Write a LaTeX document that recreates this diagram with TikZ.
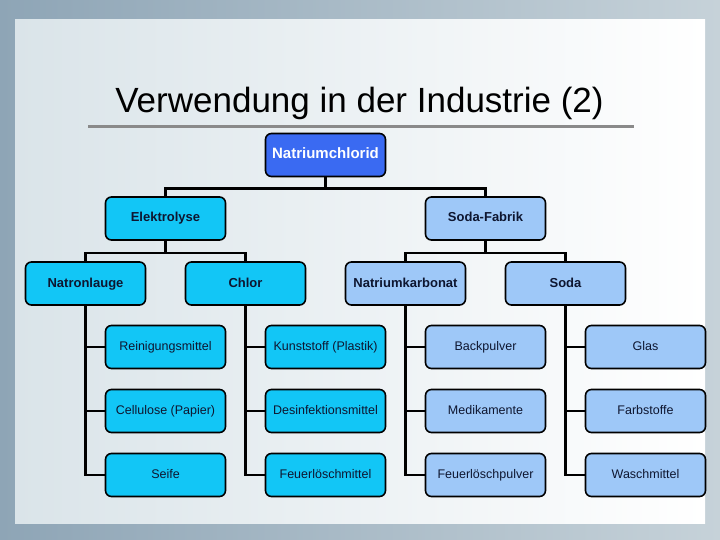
\documentclass[tikz,border=0pt]{standalone}
\usepackage{fontspec}
\setmainfont{Liberation Sans}
\usepackage{xcolor}
\usepackage{tikz}
\usetikzlibrary{shapes, arrows, positioning, calc}

\definecolor{naclblue}{HTML}{3A6AF2}
\definecolor{cyanfill}{HTML}{12C6F6}
\definecolor{lightfill}{HTML}{9EC8F8}
\definecolor{boxtext}{HTML}{0E1630}
\definecolor{outerleft}{HTML}{8EA5B6}
\definecolor{outerright}{HTML}{C6D2D9}
\definecolor{panelleft}{HTML}{DAE4E9}
\definecolor{rulegray}{HTML}{8A8A8A}

\begin{document}
\begin{tikzpicture}[x=1pt, y=-1pt, node distance=160pt,
  box/.style={rectangle, draw=black, line width=1.6pt, rounded corners=6pt, minimum width=120pt, minimum height=43pt, inner sep=2pt, text height=9.5pt, text depth=2.5pt, align=center, text=boxtext},
  head/.style={box, font=\fontsize{13}{15}\selectfont\bfseries},
  leaf/.style={box, font=\fontsize{12.5}{14}\selectfont},
  conn/.style={line width=2.6pt, black}]

\useasboundingbox (0,0) rectangle (720,540);
% slide background
\fill[left color=outerleft, right color=outerright] (0,0) rectangle (720,540);
\fill[left color=panelleft, right color=white] (15,20) rectangle (705,523);

\node[anchor=base, font=\fontsize{35}{42}\selectfont] (title) at (359.5,113) {Verwendung in der Industrie (2)};
\draw[rulegray, line width=3pt] (88,127) -- (634,127);

\node[head, fill=naclblue, text=white, font=\fontsize{15}{17}\selectfont\bfseries] (nacl) at (325.5,155) {Natriumchlorid};

\node[head, fill=cyanfill, below of=nacl, node distance=63.5pt, xshift=-160pt] (elektrolyse) {Elektrolyse};
\node[head, fill=lightfill, right of=elektrolyse, node distance=320pt] (sodafabrik) {Soda-Fabrik};

\node[head, fill=cyanfill, below of=elektrolyse, node distance=65pt, xshift=-80pt] (natronlauge) {Natronlauge};
\node[head, fill=cyanfill, right of=natronlauge] (chlor) {Chlor};
\node[head, fill=lightfill, right of=chlor] (karbonat) {Natriumkarbonat};
\node[head, fill=lightfill, right of=karbonat] (soda) {Soda};

\node[leaf, fill=cyanfill, below of=natronlauge, node distance=63.5pt, xshift=80pt] (reinigung) {Reinigungsmittel};
\node[leaf, fill=cyanfill, below of=reinigung, node distance=64pt] (cellulose) {Cellulose (Papier)};
\node[leaf, fill=cyanfill, below of=cellulose, node distance=64pt] (seife) {Seife};
\node[leaf, fill=cyanfill, right of=reinigung] (kunststoff) {Kunststoff (Plastik)};
\node[leaf, fill=cyanfill, right of=cellulose] (desinfektion) {Desinfektionsmittel};
\node[leaf, fill=cyanfill, right of=seife] (loeschmittel) {Feuerlöschmittel};
\node[leaf, fill=lightfill, right of=kunststoff] (backpulver) {Backpulver};
\node[leaf, fill=lightfill, right of=desinfektion] (medikamente) {Medikamente};
\node[leaf, fill=lightfill, right of=loeschmittel] (loeschpulver) {Feuerlöschpulver};
\node[leaf, fill=lightfill, right of=backpulver] (glas) {Glas};
\node[leaf, fill=lightfill, right of=medikamente] (farbstoffe) {Farbstoffe};
\node[leaf, fill=lightfill, right of=loeschpulver] (waschmittel) {Waschmittel};

% tree lines
\draw[conn] (nacl.south) -- ++(0,-11pt) -| (elektrolyse.north);
\draw[conn] (nacl.south) -- ++(0,-11pt) -| (sodafabrik.north);
\draw[conn] (elektrolyse.south) -- ++(0,-12pt) -| (natronlauge.north);
\draw[conn] (elektrolyse.south) -- ++(0,-12pt) -| (chlor.north);
\draw[conn] (sodafabrik.south) -- ++(0,-12pt) -| (karbonat.north);
\draw[conn] (sodafabrik.south) -- ++(0,-12pt) -| (soda.north);

\draw[conn] (natronlauge.south) |- (reinigung.west);
\draw[conn] (natronlauge.south) |- (cellulose.west);
\draw[conn] (natronlauge.south) |- (seife.west);
\draw[conn] (chlor.south) |- (kunststoff.west);
\draw[conn] (chlor.south) |- (desinfektion.west);
\draw[conn] (chlor.south) |- (loeschmittel.west);
\draw[conn] (karbonat.south) |- (backpulver.west);
\draw[conn] (karbonat.south) |- (medikamente.west);
\draw[conn] (karbonat.south) |- (loeschpulver.west);
\draw[conn] (soda.south) |- (glas.west);
\draw[conn] (soda.south) |- (farbstoffe.west);
\draw[conn] (soda.south) |- (waschmittel.west);

\end{tikzpicture}
\end{document}
